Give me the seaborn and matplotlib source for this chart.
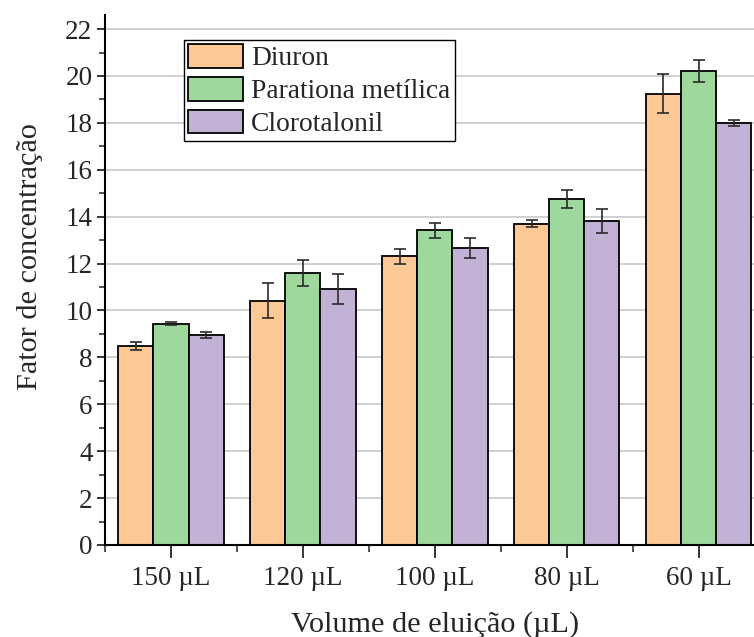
import numpy as np
import pandas as pd
import seaborn as sns
import matplotlib.pyplot as plt
from matplotlib.ticker import MultipleLocator, FixedLocator

# Elution volumes (categories) and analytes (series)
volumes = ["150 µL", "120 µL", "100 µL", "80 µL", "60 µL"]
analytes = ["Diuron", "Parationa metílica", "Clorotalonil"]

# Mean concentration factors per analyte
diuron = [8.48, 10.42, 12.31, 13.70, 19.25]
paratiana = [9.43, 11.60, 13.42, 14.75, 20.20]
clorotalonil = [8.95, 10.92, 12.66, 13.80, 18.00]

# Standard deviations
diuron_sd = [0.18, 0.75, 0.31, 0.15, 0.83]
paratiana_sd = [0.07, 0.57, 0.31, 0.38, 0.46]
clorotalonil_sd = [0.12, 0.64, 0.41, 0.51, 0.13]

colors = ["#FCC896", "#9ED89C", "#C2B2D6"]

means = [diuron, paratiana, clorotalonil]
sds = [diuron_sd, paratiana_sd, clorotalonil_sd]

df = pd.DataFrame({
    "volume": np.repeat([volumes], 3, axis=0).ravel(),
    "analyte": np.repeat(analytes, len(volumes)),
    "fator": np.ravel(means),
    "sd": np.ravel(sds),
})

sns.set_style("white")
plt.rcParams["font.family"] = ["Liberation Serif", "DejaVu Serif"]
plt.rcParams["mathtext.fontset"] = "stix"

fig = plt.figure(figsize=(7.54, 6.37), dpi=100)
ax = fig.add_axes([105 / 754, 1 - 545 / 637, 1 - 105 / 754, (545 - 15) / 637])

sns.barplot(data=df, x="volume", y="fator", hue="analyte", order=volumes,
            hue_order=analytes, palette=colors, errorbar=None, width=0.8,
            edgecolor="black", linewidth=1.3, saturation=1, ax=ax, zorder=2)

# Error bars at the centre of every bar drawn by seaborn
for container, sd in zip(ax.containers, sds):
    for bar, s in zip(container, sd):
        xc = bar.get_x() + bar.get_width() / 2
        ax.errorbar(xc, bar.get_height(), yerr=s, fmt="none", ecolor="#2b2b2b",
                    elinewidth=1.2, capsize=4.5, capthick=1.2, zorder=3)

ax.set_ylim(0, 22.6)
ax.set_xlim(-0.5, 4.42)

ax.yaxis.set_major_locator(MultipleLocator(2))
ax.yaxis.set_minor_locator(MultipleLocator(1))
ax.xaxis.set_minor_locator(FixedLocator(np.arange(-0.5, 5, 1.0)))
ax.tick_params(axis="y", which="major", direction="out", length=6, width=1.3,
               labelsize=19.5, pad=3, left=True)
ax.tick_params(axis="y", which="minor", direction="out", length=4, width=1.1, left=True)
ax.tick_params(axis="x", which="major", direction="out", length=9, width=1.3,
               labelsize=19.5, pad=6, bottom=True)
ax.tick_params(axis="x", which="minor", direction="out", length=5, width=1.1, bottom=True)

ax.grid(axis="y", which="major", color="#c4c4c4", linewidth=1.1)
ax.set_axisbelow(True)

for side in ["top", "right"]:
    ax.spines[side].set_visible(False)
for side in ["left", "bottom"]:
    ax.spines[side].set_color("black")
    ax.spines[side].set_linewidth(1.5)

ax.set_xlabel("Volume de eluição (µL)", fontsize=21.8, labelpad=14)
ax.set_ylabel("Fator de concentração", fontsize=21.8)
ax.yaxis.set_label_coords(-0.096, 0.545)
ax.xaxis.set_label_coords(0.508, -0.125)

leg = ax.legend(loc="upper left", bbox_to_anchor=((184 - 105) / 649, (545 - 40) / 530),
                borderaxespad=0, fontsize=19.8, frameon=True, fancybox=False,
                edgecolor="black", framealpha=1, handlelength=2.0, handleheight=0.95,
                handletextpad=0.3, labelspacing=0.2, borderpad=0.15)
leg.get_frame().set_linewidth(1.0)

fig.savefig("out.png", dpi=100)
